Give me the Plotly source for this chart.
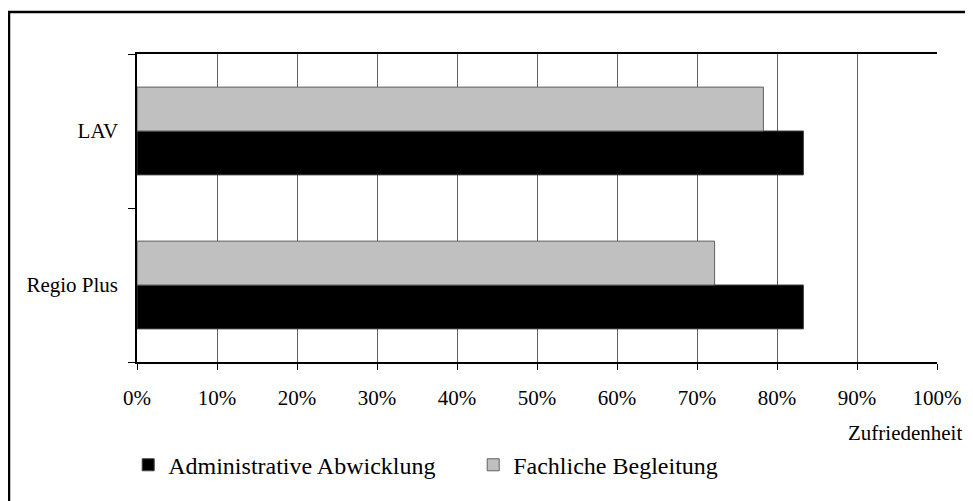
import plotly.graph_objects as go

categories = ["Regio Plus", "LAV"]
admin_values = [0.833, 0.833]
fach_values = [0.722, 0.783]
series_names = ["Administrative Abwicklung", "Fachliche Begleitung"]
x_ticks = [0, 0.1, 0.2, 0.3, 0.4, 0.5, 0.6, 0.7, 0.8, 0.9, 1.0]
x_title = "Zufriedenheit"

FONT = "Liberation Serif"

fig = go.Figure()
fig.add_trace(go.Bar(
    y=categories, x=admin_values, name=series_names[0], orientation="h",
    marker=dict(color="#000000", line=dict(color="#404040", width=1)),
))
fig.add_trace(go.Bar(
    y=categories, x=fach_values, name=series_names[1], orientation="h",
    marker=dict(color="#c0c0c0", line=dict(color="#606060", width=1)),
))

fig.update_layout(
    width=973, height=501,
    margin=dict(l=129, r=44, t=46, b=147),
    paper_bgcolor="white", plot_bgcolor="white",
    barmode="group", bargap=0.43, bargroupgap=0,
    font=dict(family=FONT, size=21, color="black"),
    showlegend=True,
    legend=dict(
        orientation="h", x=-0.011, y=-0.335, xanchor="left", yanchor="middle",
        font=dict(family=FONT, size=24, color="black"),
        traceorder="normal", itemwidth=30, entrywidth=300,
        bgcolor="rgba(0,0,0,0)",
    ),
    xaxis=dict(
        range=[0, 1], tickvals=x_ticks, tickformat=".0%",
        showgrid=True, gridcolor="#606060", gridwidth=1,
        showline=True, linecolor="black", linewidth=1.5, mirror=True,
        ticks="outside", ticklen=6, tickcolor="black", tickwidth=1,
        ticklabelstandoff=10, zeroline=False, fixedrange=True,
    ),
    yaxis=dict(
        type="category", categoryorder="array", categoryarray=categories,
        showgrid=False, showline=True, linecolor="black", linewidth=1.5,
        ticks="outside", tickson="boundaries", ticklen=7, tickcolor="black",
        ticklabelstandoff=13, fixedrange=True,
    ),
    annotations=[dict(
        text=x_title, xref="paper", yref="paper", x=1.034, y=-0.2305,
        xanchor="right", yanchor="middle", showarrow=False,
        font=dict(family=FONT, size=21, color="black"),
    )],
    shapes=[dict(
        type="rect", xref="paper", yref="paper",
        x0=-0.16, x1=1.3, y0=-0.7, y1=1.136,
        line=dict(color="black", width=2.5), fillcolor="rgba(0,0,0,0)",
        layer="below",
    )],
)

fig.write_html("out.html")
